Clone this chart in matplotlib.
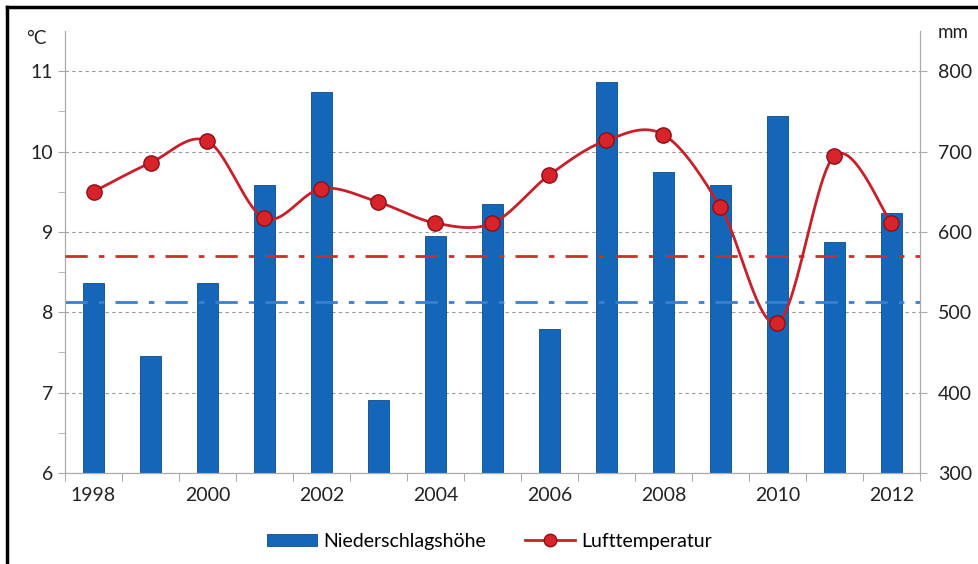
import numpy as np
import matplotlib
matplotlib.use("Agg")
import matplotlib.pyplot as plt
from matplotlib.lines import Line2D
from matplotlib.patches import Patch

plt.rcParams['font.family'] = ['Lato', 'DejaVu Sans']

# data
jahre = list(range(1998, 2013))
niederschlag = [537, 445, 536, 658, 774, 391, 595, 635, 479, 787, 674, 659, 744, 587, 624]  # mm
temperatur = [9.50, 9.86, 10.13, 9.17, 9.54, 9.37, 9.11, 9.11, 9.71, 10.14, 10.21, 9.31, 7.87, 9.95, 9.11]  # °C
mittel_temp = 8.70
mittel_nied = 513

BLAU = '#1467b8'
ROT = '#c8202a'


def glatt(x, y, n=30):
    # Catmull-Rom, aehnlich der Excel-Glaettung
    x = np.asarray(x, float)
    y = np.asarray(y, float)
    px = np.concatenate([[x[0]], x, [x[-1]]])
    py = np.concatenate([[y[0]], y, [y[-1]]])
    xs, ys = [], []
    t = np.linspace(0, 1, n)
    for i in range(1, len(px) - 2):
        for arr, out in ((px, xs), (py, ys)):
            p0, p1, p2, p3 = arr[i - 1], arr[i], arr[i + 1], arr[i + 2]
            out.extend(0.5 * ((2 * p1) + (-p0 + p2) * t
                              + (2 * p0 - 5 * p1 + 4 * p2 - p3) * t ** 2
                              + (-p0 + 3 * p1 - 3 * p2 + p3) * t ** 3))
    return np.array(xs), np.array(ys)


fig = plt.figure(figsize=(9.79, 5.64), dpi=100)
ax2 = fig.add_axes([0.0664, 0.1613, 0.8733, 0.7837])  # mm (rechts)
ax = ax2.twinx()
ax.yaxis.tick_left()
ax.yaxis.set_label_position('left')
ax2.yaxis.tick_right()

pos = np.arange(len(jahre))
ax2.bar(pos, [v - 300 for v in niederschlag], bottom=300, width=0.36,
        color=BLAU, edgecolor='#0b4a8a', linewidth=0.6, zorder=2)
ax2.set_ylim(300, 850)
ax2.set_yticks([300, 400, 500, 600, 700, 800])
ax2.grid(axis='y', color='#999999', linestyle=(0, (3, 3)), linewidth=0.8, zorder=0)
ax2.axhline(mittel_nied, color='#3a7fd0', linestyle=(0, (8, 4, 2, 4)), linewidth=2, zorder=3)

ax.set_ylim(6, 11.5)
ax.set_yticks([6, 7, 8, 9, 10, 11])
ax.set_yticks(np.arange(6.5, 11.5, 1.0), minor=True)
ax.axhline(mittel_temp, color='#d42a2a', linestyle=(0, (8, 4, 2, 4)), linewidth=2, zorder=3)
sx, sy = glatt(pos, temperatur)
ax.plot(sx, sy, color=ROT, linewidth=2, zorder=4)
ax.plot(pos, temperatur, 'o', color='#d8232a', markeredgecolor='#8a1018',
        markeredgewidth=1, markersize=11, zorder=5)

ax2.set_xlim(-0.5, len(jahre) - 0.5)
ax2.set_xticks(pos[::2])
ax2.set_xticklabels([str(j) for j in jahre[::2]])
ax2.set_xticks(np.arange(-0.5, len(jahre), 1.0), minor=True)
ax2.tick_params(axis='x', which='major', length=0, pad=10)
ax2.tick_params(axis='x', which='minor', length=6, color='#999999')

for a in (ax, ax2):
    a.spines['top'].set_visible(False)
    for s in ('left', 'right', 'bottom'):
        a.spines[s].set_color('#aaaaaa')
    a.tick_params(labelsize=14, colors='#222222')
ax.tick_params(axis='y', which='both', color='#aaaaaa', length=5)
ax2.tick_params(axis='y', color='#aaaaaa', length=5, pad=8)

fig.text(0.027, 0.922, '°C', fontsize=13.5, color='#222222')
fig.text(0.958, 0.932, 'mm', fontsize=13.5, color='#222222')

handles = [Patch(facecolor=BLAU, edgecolor='#0b4a8a', linewidth=0.6),
           Line2D([], [], color=ROT, linewidth=2, marker='o', markersize=9,
                  markerfacecolor='#d8232a', markeredgecolor='#8a1018')]
fig.legend(handles, ['Niederschlagshöhe', 'Lufttemperatur'], loc='center',
           bbox_to_anchor=(0.5, 0.04), ncol=2, frameon=False, fontsize=14,
           handlelength=2.6, handleheight=0.6, columnspacing=2.0, handletextpad=0.3)

# schwarzer Rahmen oben und links
fig.add_artist(Line2D([0.0072, 0.0072], [0, 0.988], color='black', linewidth=2.5,
                      transform=fig.transFigure))
fig.add_artist(Line2D([0.0072, 1], [0.988, 0.988], color='black', linewidth=2.5,
                      transform=fig.transFigure))

fig.savefig('out.png', dpi=100)
